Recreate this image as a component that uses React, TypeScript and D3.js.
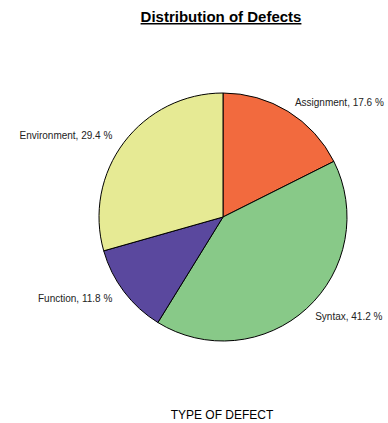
import React from "react";
import * as d3 from "d3";

const categories = ["Assignment", "Syntax", "Function", "Environment"];
const values = [17.6, 41.2, 11.8, 29.4];
const colors = ["#f26a3e", "#88c988", "#5a489e", "#e6ea94"];
const title = "Distribution of Defects";
const xLabel = "TYPE OF DEFECT";

export default function App() {
  const W = 388, H = 423;
  const cx = 223, cy = 217, r = 124, lr = 135;
  const data = categories.map((c, i) => ({ c, v: values[i], color: colors[i] }));
  const pie = d3.pie<any>().value((d) => d.v).sort(null);
  const arcs = pie(data);
  const arc = d3.arc<any>().innerRadius(0).outerRadius(r);
  const font = "Liberation Sans, Arial, Helvetica, sans-serif";
  return (
    <svg width={W} height={H} style={{ position: "absolute", left: 0, top: 0 }}>
      <rect width={W} height={H} fill="#fff" />
      <text x={221} y={22} textAnchor="middle" fontFamily={font} fontWeight="bold" fontSize={15} textDecoration="underline" fill="#000">
        {title}
      </text>
      <g transform={`translate(${cx},${cy})`}>
        {arcs.map((a, i) => (
          <path key={i} d={arc(a) as string} fill={a.data.color} stroke="#000" strokeWidth={1} />
        ))}
        {arcs.map((a, i) => {
          const m = (a.startAngle + a.endAngle) / 2;
          const x = lr * Math.sin(m);
          const y = -lr * Math.cos(m);
          const right = x > 0;
          return (
            <text key={"l" + i} x={right ? x + 1 : x - 3} y={y + 3.5} textAnchor={right ? "start" : "end"} fontFamily={font} fontSize={10} fill="#222">
              {`${a.data.c}, ${d3.format(".1f")(a.data.v)} %`}
            </text>
          );
        })}
      </g>
      <text x={222} y={419} textAnchor="middle" fontFamily={font} fontSize={12} fill="#000">
        {xLabel}
      </text>
    </svg>
  );
}
